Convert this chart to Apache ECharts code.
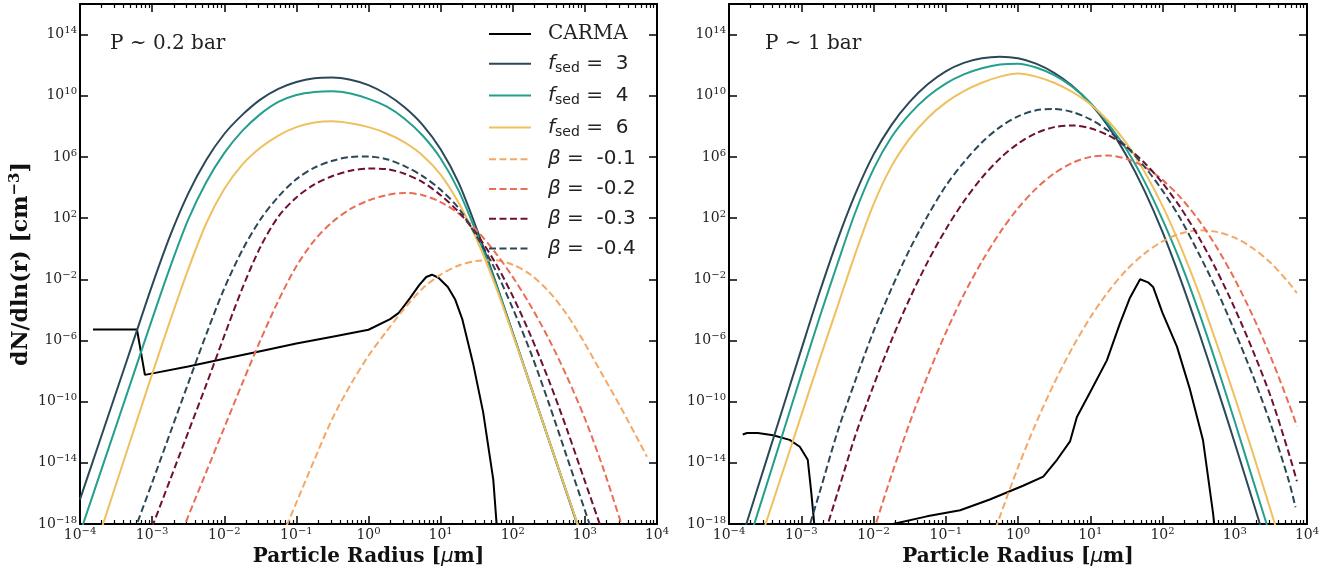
<!DOCTYPE html>
<html><head><meta charset="utf-8">
<script src="https://cdn.jsdelivr.net/npm/echarts@6/dist/echarts.min.js"></script>
<style>html,body{margin:0;padding:0;background:#fff}#c{width:1337px;height:574px}</style>
</head><body><div id="c"></div>
<script>
// ---------- data (log10 of radius [um], log10 of dN/dln(r) [cm^-3]) ----------
const X_TICKS = [-4, -3, -2, -1, 0, 1, 2, 3, 4];
const Y_TICKS = [-18, -14, -10, -6, -2, 2, 6, 10, 14];
const PANEL_TITLES = ['P ~ 0.2 bar', 'P ~ 1 bar'];
const LEGEND_KEYS = ['CARMA', 'f3', 'f4', 'f6', 'b1', 'b2', 'b3', 'b4'];
const LEGEND_VALUES = { f3: '3', f4: '4', f6: '6', b1: '-0.1', b2: '-0.2', b3: '-0.3', b4: '-0.4' };

// Panel 1: P ~ 0.2 bar
const P02_CARMA = [[-3.82,-5.28],[-3.21,-5.28],[-3.1,-8.25],[-2.5,-7.7],[-2.0,-7.2],[-1.5,-6.7],[-1.0,-6.2],[-0.5,-5.75],[0,-5.3],[0.3,-4.6],[0.42,-4.2],[0.5,-3.7],[0.58,-3.2],[0.7,-2.4],[0.8,-1.85],[0.88,-1.7],[0.97,-1.9],[1.1,-2.5],[1.2,-3.3],[1.3,-4.6],[1.45,-7.5],[1.59,-10.7],[1.73,-15.1],[1.8,-19.5]];
const P02_F3 = [[-4,-16.4],[-3.75,-12.9],[-3.5,-9.4],[-3.25,-5.9],[-3,-2.4],[-2.75,0.85],[-2.5,3.6],[-2.25,5.8],[-2,7.5],[-1.75,8.75],[-1.5,9.75],[-1.25,10.45],[-1,10.9],[-0.75,11.15],[-0.5,11.2],[-0.25,11.05],[0,10.7],[0.25,10.1],[0.5,9.25],[0.75,8.1],[1,6.5],[1.25,4.3],[1.5,1.3],[1.75,-2.0],[2,-5.5],[2.25,-9.0],[2.5,-12.5],[2.75,-16.0],[3,-19.5]];
const P02_F4 = [[-4,-18.6],[-3.75,-15.1],[-3.5,-11.6],[-3.25,-8.1],[-3,-4.6],[-2.75,-1.2],[-2.5,1.9],[-2.25,4.35],[-2,6.25],[-1.75,7.7],[-1.5,8.8],[-1.25,9.6],[-1,10.05],[-0.75,10.25],[-0.5,10.3],[-0.25,10.15],[0,9.8],[0.25,9.3],[0.5,8.5],[0.75,7.4],[1,5.9],[1.25,3.8],[1.5,1.0],[1.75,-2.1],[2,-5.5],[2.25,-9.0],[2.5,-12.5],[2.75,-15.95],[3,-19.4]];
const P02_F6 = [[-3.75,-19.0],[-3.5,-15.4],[-3.25,-11.8],[-3,-8.2],[-2.75,-4.7],[-2.5,-1.35],[-2.25,1.65],[-2,3.9],[-1.75,5.5],[-1.5,6.6],[-1.25,7.4],[-1,7.95],[-0.75,8.25],[-0.5,8.33],[-0.25,8.2],[0,7.95],[0.25,7.55],[0.5,6.95],[0.75,6.1],[1,4.85],[1.25,3.0],[1.5,0.6],[1.75,-2.3],[2,-5.6],[2.25,-9.0],[2.5,-12.5],[2.75,-15.95],[3,-19.4]];
const P02_B1 = [[-1.25,-19.4],[-1,-16.6],[-0.75,-13.8],[-0.5,-11.1],[-0.25,-8.9],[0,-7.0],[0.25,-5.4],[0.5,-3.9],[0.75,-2.6],[1,-1.7],[1.25,-1.1],[1.5,-0.8],[1.75,-0.75],[2,-1.05],[2.25,-1.7],[2.5,-2.8],[2.75,-4.3],[3,-6.2],[3.25,-8.3],[3.5,-10.4],[3.75,-12.6],[3.86,-13.6]];
const P02_B2 = [[-2.75,-20.4],[-2.5,-17.5],[-2.25,-14.6],[-2,-11.7],[-1.75,-8.8],[-1.5,-6.0],[-1.25,-3.4],[-1,-1.15],[-0.75,0.55],[-0.5,1.75],[-0.25,2.6],[0,3.15],[0.25,3.5],[0.5,3.65],[0.75,3.5],[1,3.05],[1.25,2.3],[1.5,1.2],[1.75,-0.2],[2,-1.85],[2.25,-3.75],[2.5,-5.9],[2.75,-8.35],[3,-11.1],[3.25,-14.3],[3.5,-17.9],[3.75,-21.5]];
const P02_B3 = [[-3,-18.2],[-2.75,-15.1],[-2.5,-12.0],[-2.25,-8.9],[-2,-5.7],[-1.75,-2.6],[-1.5,0.1],[-1.25,2.1],[-1,3.35],[-0.75,4.2],[-0.5,4.75],[-0.25,5.1],[0,5.24],[0.25,5.2],[0.5,4.9],[0.75,4.35],[1,3.5],[1.25,2.4],[1.5,0.95],[1.75,-0.85],[2,-3.1],[2.25,-5.7],[2.5,-8.6],[2.75,-11.8],[3,-15.2],[3.25,-18.6]];
const P02_B4 = [[-3.25,-18.5],[-3,-15.3],[-2.75,-12.05],[-2.5,-8.8],[-2.25,-5.6],[-2,-2.6],[-1.75,-0.1],[-1.5,1.9],[-1.25,3.4],[-1,4.55],[-0.75,5.3],[-0.5,5.75],[-0.25,6.0],[0,6.03],[0.25,5.85],[0.5,5.4],[0.75,4.75],[1,3.85],[1.25,2.65],[1.5,0.8],[1.75,-1.3],[2,-3.9],[2.25,-6.8],[2.5,-10.1],[2.75,-13.6],[3,-17.1],[3.25,-20.6]];

// Panel 2: P ~ 1 bar
const P1_CARMA = [[-3.81,-12.15],[-3.75,-12.05],[-3.6,-12.05],[-3.39,-12.2],[-3.16,-12.5],[-3.02,-12.95],[-2.91,-13.8],[-2.86,-16.0],[-2.82,-18.0],[-2.8,-20.5],[-1.8,-20.5],[-1.73,-18.0],[-1.26,-17.5],[-0.8,-17.1],[-0.39,-16.4],[0.07,-15.5],[0.35,-14.9],[0.54,-13.8],[0.72,-12.6],[0.815,-11.0],[0.996,-9.4],[1.23,-7.3],[1.41,-4.9],[1.55,-3.2],[1.69,-2.0],[1.8,-2.2],[1.87,-2.5],[2.0,-4.2],[2.2,-6.4],[2.38,-9.2],[2.56,-12.5],[2.7,-17.3],[2.75,-19.5]];
const P1_F3 = [[-4,-21.6],[-3.75,-17.85],[-3.5,-14.1],[-3.25,-10.35],[-3,-6.6],[-2.75,-2.9],[-2.5,0.55],[-2.25,3.6],[-2,6.15],[-1.75,8.1],[-1.5,9.6],[-1.25,10.75],[-1,11.6],[-0.75,12.15],[-0.5,12.45],[-0.25,12.55],[0,12.45],[0.25,12.1],[0.5,11.5],[0.75,10.65],[1,9.5],[1.25,8.0],[1.5,6.1],[1.75,3.8],[2,1.1],[2.25,-2.0],[2.5,-5.4],[2.75,-9.0],[3,-12.7],[3.25,-16.5],[3.5,-20.3]];
const P1_F4 = [[-3.75,-19.5],[-3.5,-15.75],[-3.25,-12.0],[-3,-8.25],[-2.75,-4.55],[-2.5,-1.0],[-2.25,2.4],[-2,5.2],[-1.75,7.3],[-1.5,8.8],[-1.25,9.95],[-1,10.8],[-0.75,11.4],[-0.5,11.8],[-0.25,12.05],[0,12.1],[0.25,11.85],[0.5,11.35],[0.75,10.6],[1,9.55],[1.25,8.15],[1.5,6.5],[1.75,4.4],[2,1.9],[2.25,-0.9],[2.5,-4.1],[2.75,-7.6],[3,-11.3],[3.25,-15.1],[3.5,-18.9]];
const P1_F6 = [[-3.75,-21.7],[-3.5,-18.1],[-3.25,-14.5],[-3,-10.9],[-2.75,-7.3],[-2.5,-3.8],[-2.25,-0.3],[-2,2.9],[-1.75,5.4],[-1.5,7.2],[-1.25,8.55],[-1,9.55],[-0.75,10.3],[-0.5,10.85],[-0.25,11.25],[0,11.45],[0.25,11.25],[0.5,10.85],[0.75,10.25],[1,9.45],[1.25,8.35],[1.5,6.9],[1.75,5.05],[2,2.8],[2.25,0.15],[2.5,-2.85],[2.75,-6.2],[3,-9.7],[3.25,-13.35],[3.5,-17.15],[3.75,-21.0]];
const P1_B1 = [[-0.5,-20.9],[-0.25,-17.5],[0,-14.3],[0.25,-11.4],[0.5,-8.8],[0.75,-6.5],[1,-4.5],[1.25,-2.8],[1.5,-1.4],[1.75,-0.32],[2,0.48],[2.25,0.99],[2.5,1.2],[2.75,1.1],[3,0.72],[3.25,0.03],[3.5,-0.94],[3.75,-2.23],[3.86,-2.9]];
const P1_B2 = [[-2.25,-22.5],[-2,-18.5],[-1.75,-14.8],[-1.5,-11.4],[-1.25,-8.3],[-1,-5.5],[-0.75,-3.0],[-0.5,-0.84],[-0.25,1.05],[0,2.64],[0.25,3.93],[0.5,4.92],[0.75,5.61],[1,6.0],[1.25,6.09],[1.5,5.88],[1.75,5.35],[2,4.5],[2.25,3.34],[2.5,1.88],[2.75,0.09],[3,-2.0],[3.25,-4.4],[3.5,-7.1],[3.75,-10.15],[3.86,-11.6]];
const P1_B3 = [[-2.75,-19.8],[-2.5,-16.0],[-2.25,-12.2],[-2,-8.96],[-1.75,-5.97],[-1.5,-3.27],[-1.25,-0.86],[-1,1.26],[-0.75,3.09],[-0.5,4.64],[-0.25,5.9],[0,6.87],[0.25,7.55],[0.5,7.95],[0.75,8.06],[1,7.88],[1.25,7.41],[1.5,6.66],[1.75,5.62],[2,4.29],[2.25,2.68],[2.5,0.77],[2.75,-1.42],[3,-3.9],[3.25,-6.66],[3.5,-9.7],[3.75,-13.4],[3.86,-15.2]];
const P1_B4 = [[-3,-19.9],[-2.75,-16.0],[-2.5,-12.0],[-2.25,-8.6],[-2,-5.4],[-1.75,-2.6],[-1.5,-0.05],[-1.25,2.15],[-1,4.1],[-0.75,5.65],[-0.5,6.95],[-0.25,7.95],[0,8.65],[0.25,9.05],[0.5,9.14],[0.75,8.94],[1,8.46],[1.25,7.71],[1.5,6.68],[1.75,5.37],[2,3.8],[2.25,1.94],[2.5,-0.3],[2.75,-2.7],[3,-5.4],[3.25,-8.3],[3.5,-11.5],[3.75,-15.2],[3.84,-16.9]];

const PANELS = [
  { CARMA: P02_CARMA, f3: P02_F3, f4: P02_F4, f6: P02_F6, b1: P02_B1, b2: P02_B2, b3: P02_B3, b4: P02_B4 },
  { CARMA: P1_CARMA, f3: P1_F3, f4: P1_F4, f6: P1_F6, b1: P1_B1, b2: P1_B2, b3: P1_B3, b4: P1_B4 }
];

// ---------- styles ----------
const COLORS = { CARMA: '#000000', f3: '#2b4858', f4: '#23a08d', f6: '#efc05f', b1: '#f5a866', b2: '#ea6d55', b3: '#6e1035', b4: '#2b4858' };
const DASHED = { CARMA: false, f3: false, f4: false, f6: false, b1: true, b2: true, b3: true, b4: true };
const SERIF = 'DejaVu Serif';
const SANS = 'DejaVu Sans';

const MINOR = [];
for (let n = -4; n < 4; n++) for (let k = 2; k <= 9; k++) MINOR.push(n + Math.log10(k));

function powLabel(v) {
  const n = Math.round(v);
  return '{b|10}{s|' + (n < 0 ? '\u2212' + (-n) : String(n)) + '}';
}
const TICK_RICH = {
  b: { fontFamily: SERIF, fontSize: 14, color: '#222', lineHeight: 18 },
  s: { fontFamily: SERIF, fontSize: 10, color: '#222', lineHeight: 10, verticalAlign: 'top' }
};
const AXLINE = { show: true, onZero: false, lineStyle: { color: '#000', width: 2 } };
const NOLINE = { show: false, onZero: false };
const MAJ_TICK = { show: true, inside: true, length: 8, lineStyle: { color: '#000', width: 1.5 } };
const MIN_TICK = { show: true, inside: true, length: 4, customValues: MINOR, lineStyle: { color: '#000', width: 1.2 } };

const xAxes = [], yAxes = [];
[0, 1].forEach(gi => {
  const base = { gridIndex: gi, type: 'value', min: -4, max: 4, interval: 1, splitLine: { show: false } };
  xAxes.push(Object.assign({}, base, {
    position: 'bottom', axisLine: AXLINE, axisTick: MAJ_TICK,
    axisLabel: { show: true, margin: 2, formatter: powLabel, rich: TICK_RICH, showMinLabel: true, showMaxLabel: true, hideOverlap: false },
    name: '{a|Particle Radius [}{m|\u03bc}{a|m]}', nameLocation: 'middle', nameGap: 19,
    nameTextStyle: { rich: {
      a: { fontFamily: SERIF, fontWeight: 'bold', fontSize: 20, color: '#111', lineHeight: 24 },
      m: { fontFamily: SANS, fontStyle: 'italic', fontSize: 20, color: '#111', lineHeight: 24 } } }
  }));
  xAxes.push(Object.assign({}, base, { position: 'bottom', axisLine: NOLINE, axisTick: MIN_TICK, axisLabel: { show: false } }));
  xAxes.push(Object.assign({}, base, { position: 'top', axisLine: AXLINE, axisTick: MAJ_TICK, axisLabel: { show: false } }));
  xAxes.push(Object.assign({}, base, { position: 'top', axisLine: NOLINE, axisTick: MIN_TICK, axisLabel: { show: false } }));

  const ybase = { gridIndex: gi, type: 'value', min: -18, max: 16, splitLine: { show: false } };
  yAxes.push(Object.assign({}, ybase, {
    position: 'left', axisLine: AXLINE,
    axisTick: Object.assign({}, MAJ_TICK, { customValues: Y_TICKS }),
    axisLabel: { show: true, margin: 3, customValues: Y_TICKS, formatter: powLabel, rich: TICK_RICH },
    name: gi === 0 ? '{a|dN/dln(r) [cm}{s|\u22123}{a|]}' : '', nameLocation: 'middle', nameGap: 46,
    nameTextStyle: { rich: {
      a: { fontFamily: SERIF, fontWeight: 'bold', fontSize: 22, color: '#111', lineHeight: 26 },
      s: { fontFamily: SERIF, fontWeight: 'bold', fontSize: 15, color: '#111', lineHeight: 13, verticalAlign: 'top' } } }
  }));
  yAxes.push(Object.assign({}, ybase, {
    position: 'right', axisLine: AXLINE,
    axisTick: Object.assign({}, MAJ_TICK, { customValues: Y_TICKS }),
    axisLabel: { show: false }
  }));
});

const series = [];
PANELS.forEach((panel, gi) => {
  LEGEND_KEYS.forEach(key => {
    series.push({
      type: 'line', name: key, data: panel[key],
      xAxisIndex: gi * 4, yAxisIndex: gi * 2,
      symbol: 'none', showSymbol: false, silent: true, clip: true,
      smooth: key === 'CARMA' ? false : 0.3,
      lineStyle: { color: COLORS[key], width: 2, type: DASHED[key] ? [7, 3.5] : 'solid' },
      itemStyle: { color: COLORS[key] }
    });
  });
});

function legendFormatter(name) {
  if (name === 'CARMA') return '{c|CARMA}';
  if (name[0] === 'f') return '{fi|f}{sub|sed}{t| =  ' + LEGEND_VALUES[name] + '}';
  return '{bi|\u03b2}{t| =  ' + LEGEND_VALUES[name] + '}';
}

const chart = echarts.init(document.getElementById('c'), null, { renderer: 'canvas' });
chart.setOption({
  animation: false,
  backgroundColor: '#fff',
  grid: [
    { left: 80, top: 4, width: 577, height: 520, containLabel: false, outerBoundsMode: 'none' },
    { left: 729, top: 4, width: 578, height: 520, containLabel: false, outerBoundsMode: 'none' }
  ],
  xAxis: xAxes,
  yAxis: yAxes,
  legend: {
    data: LEGEND_KEYS, orient: 'vertical', left: 488, top: 24, padding: 0,
    itemWidth: 42, itemHeight: 14, itemGap: 9.8, align: 'left',
    selectedMode: false, formatter: legendFormatter,
    itemStyle: { opacity: 0, borderWidth: 0 },
    textStyle: { color: '#222', rich: {
      c: { fontFamily: SERIF, fontSize: 20, lineHeight: 24, padding: [0, 0, 0, 12], color: '#222' },
      fi: { fontFamily: SANS, fontStyle: 'italic', fontSize: 20, lineHeight: 24, padding: [0, 0, 0, 12], color: '#222' },
      bi: { fontFamily: SANS, fontStyle: 'italic', fontSize: 20, lineHeight: 24, padding: [0, 0, 0, 12], color: '#222' },
      sub: { fontFamily: SANS, fontSize: 14, lineHeight: 14, verticalAlign: 'bottom', color: '#222' },
      t: { fontFamily: SANS, fontSize: 20, lineHeight: 24, color: '#222' }
    } }
  },
  graphic: [
    { type: 'text', left: 110, top: 34, style: { text: PANEL_TITLES[0], font: '20px "DejaVu Serif"', fill: '#222' } },
    { type: 'text', left: 765, top: 34, style: { text: PANEL_TITLES[1], font: '20px "DejaVu Serif"', fill: '#222' } }
  ],
  series: series
});
</script>
</body></html>
